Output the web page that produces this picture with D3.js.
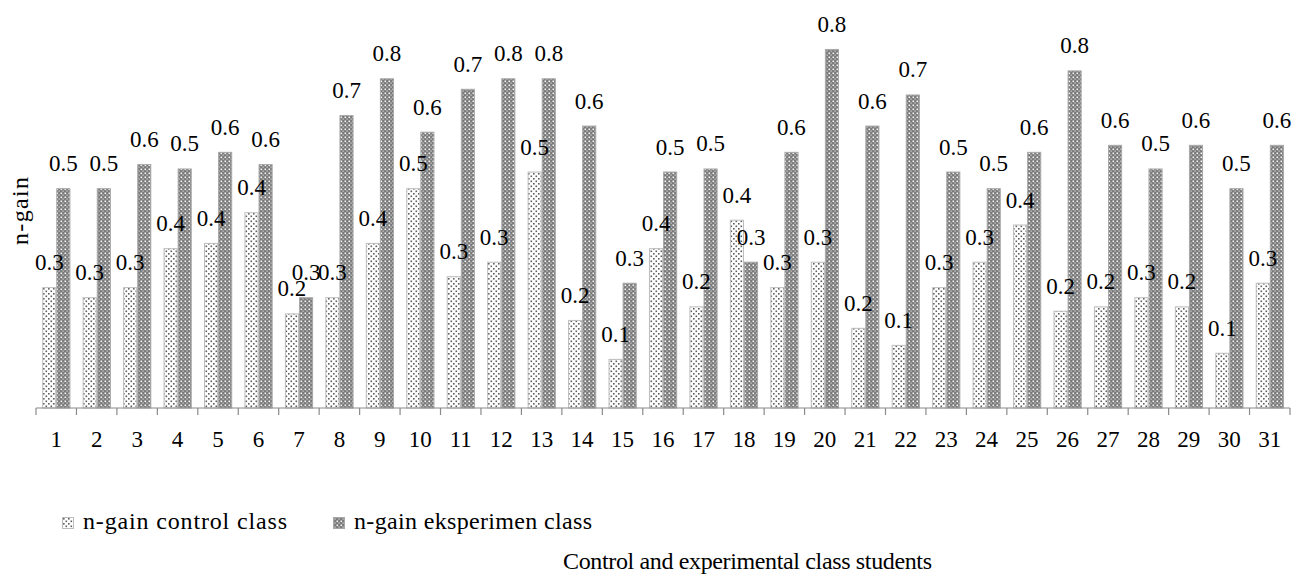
<!DOCTYPE html>
<html>
<head>
<meta charset="utf-8">
<script src="https://cdn.jsdelivr.net/npm/d3@7"></script>
<style>
  html, body { margin: 0; padding: 0; background: #fff; }
  svg { display: block; }
</style>
</head>
<body>
<svg id="chart" width="1292" height="576"></svg>
<script>
// Students 1..31
const students = d3.range(1, 32).map(String);

// n-gain per student, control class
const controlGain = [
  0.275, 0.252, 0.275, 0.364, 0.376, 0.446, 0.215, 0.252, 0.376, 0.501,
  0.300, 0.333, 0.539, 0.200, 0.111, 0.364, 0.231, 0.429, 0.275, 0.333,
  0.182, 0.143, 0.275, 0.333, 0.418, 0.221, 0.231, 0.252, 0.231, 0.125,
  0.285
];

// n-gain per student, experimental class
const experimentGain = [
  0.501, 0.501, 0.556, 0.546, 0.584, 0.556, 0.252, 0.668, 0.752, 0.630,
  0.728, 0.752, 0.752, 0.644, 0.285, 0.539, 0.546, 0.333, 0.584, 0.819,
  0.644, 0.715, 0.539, 0.501, 0.584, 0.770, 0.600, 0.546, 0.600, 0.501,
  0.600
];

const seriesNames = ["n-gain control class", "n-gain eksperimen class"];
const seriesKeys = ["control", "experiment"];
const yLabel = "n-gain";
const xTitle = "Control and experimental class students";

const FONT = "'Liberation Serif', 'Times New Roman', serif";

// one record per bar
const bars = [];
students.forEach((s, i) => {
  bars.push({ student: s, key: "control", value: controlGain[i] });
  bars.push({ student: s, key: "experiment", value: experimentGain[i] });
});

const svg = d3.select("#chart");

// hatch fills
const defs = svg.append("defs");
const pCtrl = defs.append("pattern")
  .attr("id", "fill-control").attr("patternUnits", "userSpaceOnUse")
  .attr("width", 5).attr("height", 5);
pCtrl.append("rect").attr("width", 5).attr("height", 5).attr("fill", "#ffffff");
pCtrl.append("rect").attr("x", 0.5).attr("y", 0.5).attr("width", 1.6).attr("height", 1.6).attr("fill", "#5e5e5e");
pCtrl.append("rect").attr("x", 3).attr("y", 3).attr("width", 1.6).attr("height", 1.6).attr("fill", "#5e5e5e");

const pExp = defs.append("pattern")
  .attr("id", "fill-experiment").attr("patternUnits", "userSpaceOnUse")
  .attr("width", 4).attr("height", 4);
pExp.append("rect").attr("width", 4).attr("height", 4).attr("fill", "#7a7a7a");
pExp.append("rect").attr("x", 0.5).attr("y", 0.5).attr("width", 1.6).attr("height", 1.6).attr("fill", "#f6f6f6");
pExp.append("rect").attr("x", 2.5).attr("y", 2.5).attr("width", 1.2).attr("height", 1.2).attr("fill", "#dddddd");

const fills = { control: "url(#fill-control)", experiment: "url(#fill-experiment)" };
const strokes = { control: "#bdbdbd", experiment: "#a8a8a8" };

const plot = { left: 36, right: 1290, top: 14, bottom: 408 };

const x0 = d3.scaleBand().domain(students).range([plot.left, plot.right]).padding(0);
const x1 = d3.scaleBand().domain(seriesKeys).range([6.2, 34.4]).padding(0);
const y = d3.scaleLinear().domain([0, 0.9]).range([plot.bottom, plot.top]);
const barX = d => x0(d.student) + x1(d.key);

const fmt = d3.format(".1f");

// bars
svg.append("g").selectAll("rect")
  .data(bars).join("rect")
  .attr("x", d => barX(d) + 0.5)
  .attr("y", d => y(d.value))
  .attr("width", x1.bandwidth() - 1)
  .attr("height", d => y(0) - y(d.value))
  .attr("fill", d => fills[d.key])
  .attr("stroke", d => strokes[d.key])
  .attr("stroke-width", 1);

// value labels
svg.append("g").selectAll("text")
  .data(bars).join("text")
  .attr("x", d => barX(d) + x1.bandwidth() / 2)
  .attr("y", d => y(d.value) - 17.5)
  .attr("text-anchor", "middle")
  .style("font-family", FONT)
  .style("font-size", "23px")
  .style("fill", "#000")
  .text(d => fmt(d.value));

// category axis line and boundary ticks
const axisG = svg.append("g");
axisG.append("line")
  .attr("x1", plot.left).attr("x2", plot.right)
  .attr("y1", plot.bottom).attr("y2", plot.bottom)
  .attr("stroke", "#8a8a8a").attr("stroke-width", 1.2);
const bounds = students.map(s => x0(s)).concat([x0.range()[1]]);
axisG.selectAll("line.bound")
  .data(bounds).join("line")
  .attr("class", "bound")
  .attr("x1", d => d).attr("x2", d => d)
  .attr("y1", plot.bottom).attr("y2", plot.bottom + 7)
  .attr("stroke", "#8a8a8a").attr("stroke-width", 1.2);

// category labels
axisG.selectAll("text")
  .data(students).join("text")
  .attr("x", d => x0(d) + x0.bandwidth() / 2)
  .attr("y", plot.bottom + 39)
  .attr("text-anchor", "middle")
  .style("font-family", FONT)
  .style("font-size", "23px")
  .style("fill", "#000")
  .text(d => d);

// y-axis title
svg.append("text")
  .attr("transform", `translate(28,${(plot.top + plot.bottom) / 2}) rotate(-90)`)
  .attr("text-anchor", "middle")
  .attr("textLength", 68)
  .attr("lengthAdjust", "spacing")
  .style("font-family", FONT)
  .style("font-size", "24px")
  .style("fill", "#000")
  .text(yLabel);

// legend
const legendItems = [
  { key: "control", label: seriesNames[0], x: 62, w: 204 },
  { key: "experiment", label: seriesNames[1], x: 333, w: 238 }
];
const legend = svg.append("g");
legend.selectAll("rect")
  .data(legendItems).join("rect")
  .attr("x", d => d.x + 0.5).attr("y", 517.5)
  .attr("width", 11).attr("height", 11)
  .attr("fill", d => fills[d.key])
  .attr("stroke", d => strokes[d.key]);
legend.selectAll("text")
  .data(legendItems).join("text")
  .attr("x", d => d.x + 21).attr("y", 528.5)
  .attr("textLength", d => d.w)
  .attr("lengthAdjust", "spacing")
  .style("font-family", FONT)
  .style("font-size", "24px")
  .style("fill", "#000")
  .text(d => d.label);

// x-axis title
svg.append("text")
  .attr("x", 563).attr("y", 569)
  .attr("textLength", 369)
  .attr("lengthAdjust", "spacing")
  .style("font-family", FONT)
  .style("font-size", "24px")
  .style("fill", "#000")
  .text(xTitle);
</script>
</body>
</html>
